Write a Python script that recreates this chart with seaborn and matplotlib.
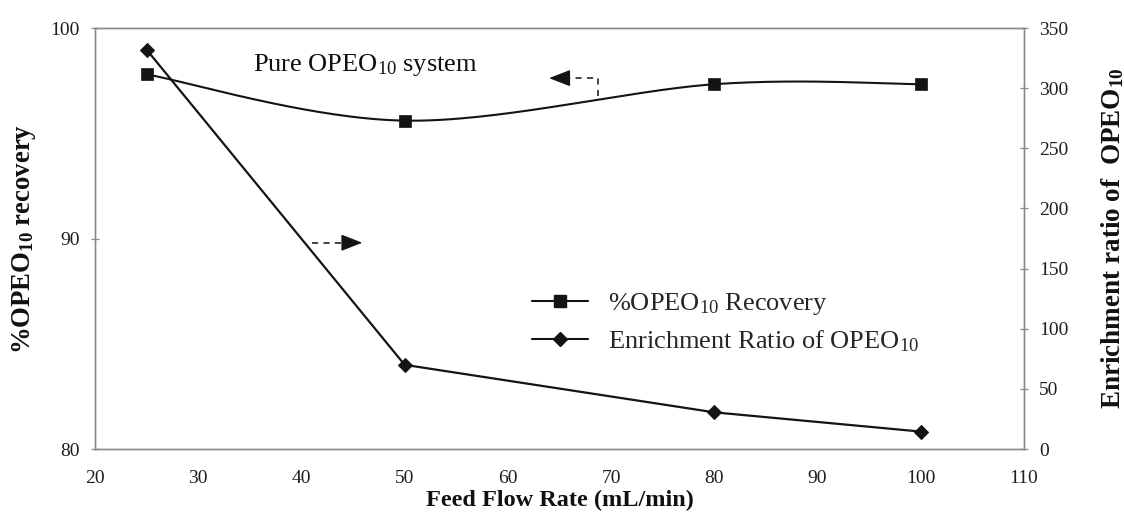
import numpy as np
import pandas as pd
import matplotlib
matplotlib.use("Agg")
import matplotlib.pyplot as plt
from matplotlib.lines import Line2D
import seaborn as sns

# Feed flow rates (mL/min)
flow_rate = [25, 50, 80, 100]
# %OPEO10 recovery (left axis)
recovery = [97.8, 95.6, 97.33, 97.33]
# Enrichment ratio of OPEO10 (right axis)
enrichment = [332, 70, 30.5, 14.5]

x_ticks = [20, 30, 40, 50, 60, 70, 80, 90, 100, 110]
left_ticks = [80, 90, 100]
right_ticks = [0, 50, 100, 150, 200, 250, 300, 350]

sns.set_theme(style="white")
plt.rcParams["font.family"] = ["Liberation Serif", "DejaVu Serif"]
plt.rcParams["mathtext.fontset"] = "custom"
plt.rcParams["mathtext.rm"] = "Liberation Serif"
plt.rcParams["mathtext.it"] = "Liberation Serif:italic"
plt.rcParams["mathtext.bf"] = "Liberation Serif:bold"

fig = plt.figure(figsize=(11.24, 5.16), dpi=100)
ax = fig.add_axes([0.0845, 0.1298, 0.8265, 0.8159])
ax2 = ax.twinx()

XMIN, XMAX = 20, 110
YMIN, YMAX = 80, 100
ax.set_xlim(XMIN, XMAX)
ax.set_ylim(YMIN, YMAX)
ax2.set_ylim(0, 350)

ink = "#141414"
spine_col = "#8a8a8a"


def smooth_curve(xs, ys, sx, sy, n=60):
    """Piecewise cubic Bezier through the points (Catmull-Rom tangents),
    computed in screen-proportional units so the curve looks like a
    spreadsheet 'smoothed line'."""
    P = np.column_stack([np.asarray(xs, float) / sx, np.asarray(ys, float) / sy])
    m = len(P)
    out = []
    t = np.linspace(0, 1, n)[:, None]
    for i in range(m - 1):
        d0 = (P[min(i + 1, m - 1)] - P[max(i - 1, 0)]) / 6.0
        d1 = (P[min(i + 2, m - 1)] - P[i]) / 6.0
        p0, p3 = P[i], P[i + 1]
        p1, p2 = p0 + d0, p3 - d1
        seg = ((1 - t) ** 3) * p0 + 3 * ((1 - t) ** 2) * t * p1 + 3 * (1 - t) * t ** 2 * p2 + t ** 3 * p3
        out.append(seg if i == 0 else seg[1:])
    c = np.vstack(out)
    return c[:, 0] * sx, c[:, 1] * sy


bbox = ax.get_position()
sx = (XMAX - XMIN) / (bbox.width * 1124)
sy = (YMAX - YMIN) / (bbox.height * 516)
cx, cy = smooth_curve(flow_rate, recovery, sx, sy)

df_rec = pd.DataFrame({"flow": flow_rate, "rec": recovery})
df_enr = pd.DataFrame({"flow": flow_rate, "enr": enrichment})
df_curve = pd.DataFrame({"flow": cx, "rec": cy})

# Recovery: smoothed line with square markers
sns.lineplot(data=df_curve, x="flow", y="rec", sort=False, ax=ax,
             color=ink, linewidth=1.5, estimator=None)
sns.scatterplot(data=df_rec, x="flow", y="rec", ax=ax, marker="s", s=85,
                color=ink, edgecolor=ink, linewidth=0.5, zorder=5)

# Enrichment ratio: straight line with diamond markers
sns.lineplot(data=df_enr, x="flow", y="enr", ax=ax2, color=ink, linewidth=1.6,
             marker="D", markersize=7.5, markeredgecolor=ink, estimator=None)

ax.set_xticks(x_ticks)
ax.set_yticks(left_ticks)
ax2.set_yticks(right_ticks)
ax.set_xlabel("")
ax.set_ylabel("")
ax2.set_ylabel("")

for a in (ax, ax2):
    for s in a.spines.values():
        s.set_color(spine_col)
        s.set_linewidth(1.0)

ax.tick_params(axis="x", direction="inout", length=6, width=0.9, color=spine_col,
               labelsize=14, pad=12, labelcolor="#1e1e1e")
ax.tick_params(axis="y", direction="inout", length=6, width=0.9, color=spine_col,
               labelsize=14, pad=8, labelcolor="#1e1e1e", left=True)
ax2.tick_params(axis="y", direction="inout", length=6, width=0.9, color=spine_col,
                labelsize=14, pad=8, labelcolor="#1e1e1e", right=True)

ax.set_xlabel("Feed Flow Rate (mL/min)", fontsize=17.5, fontweight="bold",
              labelpad=2, color="#111111")
ax.set_ylabel(r"%OPEO$_{\mathbf{10}}$ recovery", fontsize=19.3, fontweight="bold",
              labelpad=9, color="#111111")
ax2.set_ylabel(r"Enrichment ratio of  OPEO$_{\mathbf{10}}$", fontsize=19.5,
               fontweight="bold", labelpad=22, color="#111111")

# Annotation text and dashed axis-indicator arrows
ax.text(35.3, 98.25, r"Pure OPEO$_{10}$ system", fontsize=19, color="#111111",
        va="center", ha="left")

dash = (0, (4, 3.5))
head_style = "-|>,head_length=1.1,head_width=0.43"
# arrow pointing to the left axis: drop from the curve, then left
ax.plot([68.7, 68.7, 65.4], [96.75, 97.62, 97.62], color=ink, linewidth=1.1,
        linestyle=dash)
ax.annotate("", xy=(64.0, 97.62), xytext=(65.6, 97.62),
            arrowprops=dict(arrowstyle=head_style, color=ink, linewidth=1.0,
                            shrinkA=0, shrinkB=0))
# arrow pointing to the right axis
ax.plot([41.0, 44.5], [89.8, 89.8], color=ink, linewidth=1.1, linestyle=dash)
ax.annotate("", xy=(45.9, 89.8), xytext=(44.3, 89.8),
            arrowprops=dict(arrowstyle=head_style, color=ink, linewidth=1.0,
                            shrinkA=0, shrinkB=0))

handles = [
    Line2D([], [], color=ink, linewidth=1.5, marker="s", markersize=9),
    Line2D([], [], color=ink, linewidth=1.5, marker="D", markersize=7.5),
]
labels = [r"%OPEO$_{10}$ Recovery", r"Enrichment Ratio of OPEO$_{10}$"]
ax2.legend(handles, labels, loc="upper left", bbox_to_anchor=(0.459, 0.40),
           frameon=False, fontsize=19, handlelength=2.12, handletextpad=0.76,
           labelspacing=0.43, borderaxespad=0)

fig.savefig("out.png", dpi=100, facecolor="white")
